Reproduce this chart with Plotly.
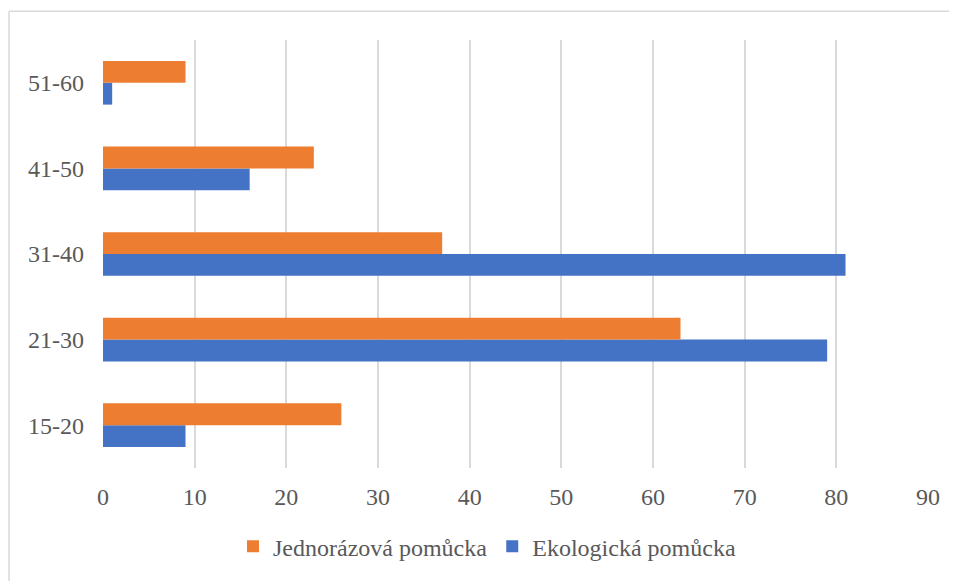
import plotly.graph_objects as go

categories = ["15-20", "21-30", "31-40", "41-50", "51-60"]
jednorazova = [26, 63, 37, 23, 9]
ekologicka = [9, 79, 81, 16, 1]
x_ticks = [0, 10, 20, 30, 40, 50, 60, 70, 80, 90]

# page body has an 8px margin; work in figure pixels = screen pixels - 8
OFF = 8
W, H = 957 - OFF, 581 - OFF
ML, MT = 103 - OFF, 40 - OFF
pw, ph = 825, 430
MR, MB = W - ML - pw, H - MT - ph

def px_to_paper_x(px):
    return (px - OFF - ML) / pw

def px_to_paper_y(py):
    return (H - MB - (py - OFF)) / ph

fig = go.Figure()
fig.add_trace(go.Bar(
    y=categories, x=ekologicka, orientation="h", name="Ekologická pomůcka",
    marker=dict(color="#4472C4", line=dict(width=0)), legendrank=2,
))
fig.add_trace(go.Bar(
    y=categories, x=jednorazova, orientation="h", name="Jednorázová pomůcka",
    marker=dict(color="#ED7D31", line=dict(width=0)), legendrank=1,
))

tick_font = dict(family="Liberation Serif", size=24, color="#595959")
legend_font = dict(family="Liberation Serif", size=24, color="#595959")

fig.update_layout(
    width=W, height=H,
    margin=dict(l=ML, r=MR, t=MT, b=MB),
    paper_bgcolor="white", plot_bgcolor="white",
    barmode="group", bargap=0.49, bargroupgap=0,
    font=tick_font,
    showlegend=True,
    legend=dict(orientation="h", x=px_to_paper_x(487), xanchor="center", y=px_to_paper_y(549),
                yanchor="middle", font=legend_font, itemwidth=30, traceorder="normal"),
    xaxis=dict(range=[0, 90], tickvals=x_ticks, showgrid=True, gridcolor="#D9D9D9", gridwidth=1.6,
               zeroline=False, showline=False, ticks="", tickfont=tick_font, ticklabelstandoff=12,
               fixedrange=True),
    yaxis=dict(showgrid=False, zeroline=False, showline=False, ticks="", tickfont=tick_font,
               ticklabelstandoff=18, fixedrange=True),
    shapes=[
        dict(type="line", xref="paper", yref="paper",
             x0=px_to_paper_x(9), x1=px_to_paper_x(990), y0=px_to_paper_y(11), y1=px_to_paper_y(11),
             line=dict(color="#D9D9D9", width=1.5)),
        dict(type="line", xref="paper", yref="paper",
             x0=px_to_paper_x(9), x1=px_to_paper_x(9), y0=px_to_paper_y(11), y1=px_to_paper_y(620),
             line=dict(color="#D9D9D9", width=1.5)),
    ],
)

fig.write_html("out.html")
